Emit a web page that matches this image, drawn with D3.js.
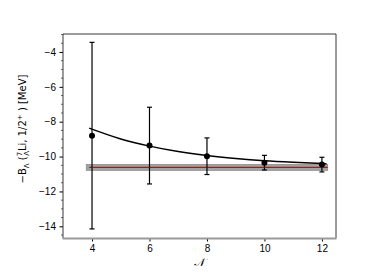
<!DOCTYPE html>
<html lang="en">
<head>
<script src="https://d3js.org/d3.v7.min.js"></script>
<style>
  body { margin: 0; background: #fff; }
  svg { font-family: "DejaVu Sans", sans-serif; }
</style>
</head>
<body>
<div id="chart"></div>
<script>
// data
var nValues = [4, 6, 8, 10, 12];
var energies = [-8.80, -9.37, -9.98, -10.35, -10.46];
var errors = [5.35, 2.20, 1.05, 0.42, 0.42];
// fitted curve, sampled
var curveN = [3.9, 5, 6, 7, 8, 9, 10, 11, 12, 12.16];
var curveE = [-8.37, -8.99, -9.40, -9.71, -9.94, -10.11, -10.24, -10.33, -10.40, -10.41];
// extrapolated value and its band
var limitValue = -10.62;
var limitErr = 0.17;
var limitRange = [3.8, 12.2];
var xTicks = [4, 6, 8, 10, 12];
var yTicks = [-14, -12, -10, -8, -6, -4];

var margin = { top: 34, right: 38, bottom: 42, left: 63 },
    width = 374 - margin.left - margin.right,
    height = 280 - margin.top - margin.bottom;

var svg = d3.select("#chart").append("svg")
    .attr("width", 374).attr("height", 280)
    .append("g")
    .attr("transform", "translate(" + margin.left + "," + margin.top + ")");

var x = d3.scaleLinear().domain([2.99, 12.49]).range([0, width]);
var y = d3.scaleLinear().domain([-14.67, -2.97]).range([height, 0]);

var minus = function(v) { return String(v).replace("-", "\u2212"); };

// band + red line
svg.append("rect")
    .attr("x", x(limitRange[0]))
    .attr("y", y(limitValue + limitErr))
    .attr("width", x(limitRange[1]) - x(limitRange[0]))
    .attr("height", y(limitValue - limitErr) - y(limitValue + limitErr))
    .attr("fill", "#a3a3a3")
    .attr("stroke", "#8c8c8c")
    .attr("stroke-width", 0.8);

svg.append("line")
    .attr("x1", x(limitRange[0] + 0.1)).attr("x2", x(limitRange[1]))
    .attr("y1", y(limitValue)).attr("y2", y(limitValue))
    .attr("stroke", "#e00000").attr("stroke-width", 1.3);

// fit curve
var pts = curveN.map(function(n, i) { return [n, curveE[i]]; });
svg.append("path")
    .datum(pts)
    .attr("fill", "none")
    .attr("stroke", "black")
    .attr("stroke-width", 1.5)
    .attr("d", d3.line()
        .x(function(d) { return x(d[0]); })
        .y(function(d) { return y(d[1]); })
        .curve(d3.curveMonotoneX));

// error bars
var bars = svg.selectAll(".err")
    .data(nValues)
    .enter().append("g");

bars.append("line")
    .attr("x1", function(d) { return x(d); })
    .attr("x2", function(d) { return x(d); })
    .attr("y1", function(d, i) { return y(energies[i] + errors[i]); })
    .attr("y2", function(d, i) { return y(energies[i] - errors[i]); })
    .attr("stroke", "black").attr("stroke-width", 1.2);

[1, -1].forEach(function(s) {
    bars.append("line")
        .attr("x1", function(d) { return x(d) - 2.5; })
        .attr("x2", function(d) { return x(d) + 2.5; })
        .attr("y1", function(d, i) { return y(energies[i] + s * errors[i]); })
        .attr("y2", function(d, i) { return y(energies[i] + s * errors[i]); })
        .attr("stroke", "black").attr("stroke-width", 1.2);
});

bars.append("circle")
    .attr("cx", function(d) { return x(d); })
    .attr("cy", function(d, i) { return y(energies[i]); })
    .attr("r", 3)
    .attr("fill", "black");

// axes
var xAxis = svg.append("g")
    .attr("transform", "translate(0," + height + ")")
    .call(d3.axisBottom(x).tickValues(xTicks).tickSize(3.5).tickPadding(3.5));
xAxis.select(".domain").remove();
xAxis.selectAll("text").style("font-size", "10px").attr("fill", "#000");

var yAxis = svg.append("g")
    .call(d3.axisLeft(y).tickValues(yTicks).tickSize(3.5).tickPadding(3.5).tickFormat(minus));
yAxis.select(".domain").remove();
yAxis.selectAll("text").style("font-size", "10px").attr("fill", "#000");

// minor ticks on y
var minor = d3.range(-14.5, -2.9, 0.5).filter(function(v) { return v % 2 !== 0; });
svg.append("g")
    .selectAll("line")
    .data(minor)
    .enter().append("line")
    .attr("x1", -2).attr("x2", 0)
    .attr("y1", function(d) { return y(d); })
    .attr("y2", function(d) { return y(d); })
    .attr("stroke", "black").attr("stroke-width", 0.6);

// frame
svg.append("path")
    .attr("d", "M0," + height + "V0H" + width + "V" + height)
    .attr("fill", "none").attr("stroke", "#222").attr("stroke-width", 0.9);
svg.append("line")
    .attr("x1", -0.5).attr("x2", width + 0.5)
    .attr("y1", height + 0.5).attr("y2", height + 0.5)
    .attr("stroke", "#9a9a9a").attr("stroke-width", 2);

// axis labels
svg.append("text")
    .attr("x", width / 2)
    .attr("y", height + 28)
    .attr("text-anchor", "middle")
    .style("font-size", "11px")
    .style("font-style", "italic")
    .style("font-family", "'DejaVu Serif', serif")
    .text("\uD835\uDCA9");

var yl = svg.append("text")
    .attr("transform", "translate(" + (-37) + "," + (height / 2 - 7) + ") rotate(-90)")
    .attr("text-anchor", "middle")
    .style("font-size", "10px");
yl.append("tspan").text("\u2212B");
yl.append("tspan").attr("dy", 2.5).style("font-size", "7px").text("\u039B");
yl.append("tspan").attr("dy", -2.5).text(" (");
yl.append("tspan").attr("dy", -4).style("font-size", "7px").text("7");
yl.append("tspan").attr("dx", -4).attr("dy", 7).style("font-size", "7px").text("\u039B");
yl.append("tspan").attr("dy", -3).text("Li, 1/2");
yl.append("tspan").attr("dy", -4).style("font-size", "7px").text("+");
yl.append("tspan").attr("dy", 4).text(" ) [MeV]");
</script>
</body>
</html>
